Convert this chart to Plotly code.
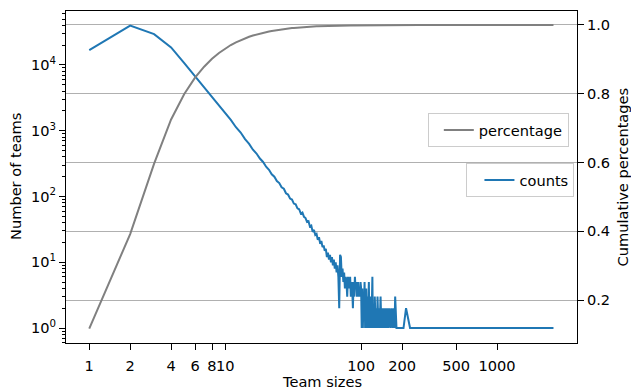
import numpy as np
import plotly.graph_objects as go

# Team sizes (unique sizes observed) and number of teams of each size
sizes = list(range(1, 101)) + [
    101, 102, 103, 104, 105, 106, 107, 108, 109, 110, 111, 112, 113, 114, 115,
    116, 117, 118, 119, 121, 122, 123, 125, 126, 128, 129, 131, 132, 134, 136,
    137, 139, 141, 143, 145, 147, 149, 152, 154, 156, 158, 161, 164, 167, 170,
    173, 176, 178, 182, 190, 205, 214, 229, 265, 340, 2600,
]
counts = [
    # 1-10
    16800, 39600, 29500, 18500, 10700, 6800, 4600, 3300, 2450, 1880,
    # 11-20
    1460, 1130, 940, 745, 630, 515, 450, 378, 335, 284,
    # 21-30
    255, 218, 200, 172, 160, 138, 131, 112, 107, 93,
    # 31-40
    90, 78, 76, 66, 64, 55, 57, 49, 47, 41,
    # 41-50
    42, 35, 36, 29, 31, 26, 27, 22, 24, 19,
    # 51-60
    21, 17, 18, 15, 16, 12, 14, 11, 13, 10,
    # 61-70
    12, 9, 11, 8, 10, 7, 9, 6, 2, 13,
    # 71-80
    12, 6, 8, 5, 7, 4, 6, 5, 3, 6,
    # 81-90
    5, 4, 6, 3, 5, 4, 2, 5, 3, 6,
    # 91-100
    4, 5, 3, 4, 5, 3, 4, 3, 5, 4,
    # sparse sizes above 100
    1, 4, 1, 3, 2, 5, 1, 2, 4, 1, 3, 1, 2, 5, 1,
    2, 1, 3, 1, 6, 1, 2, 1, 3, 1, 2, 1, 3, 1, 2,
    1, 3, 1, 2, 1, 2, 1, 2, 1, 2, 1, 2, 1, 2, 1,
    2, 1, 3, 1, 1, 1, 2, 1, 1, 1, 1,
]

# Cumulative share of teams up to each size
percentage = np.cumsum(counts) / np.sum(counts)

x_ticks = [1, 2, 4, 6, 8, 10, 100, 200, 500, 1000]
y_left_ticks = [1, 10, 100, 1000, 10000]
y_left_labels = ["10<sup>0</sup>", "10<sup>1</sup>", "10<sup>2</sup>",
                 "10<sup>3</sup>", "10<sup>4</sup>"]
y_right_ticks = [0.2, 0.4, 0.6, 0.8, 1.0]

minor_left = [m * 10 ** k for k in range(-1, 5) for m in range(2, 10)]
minor_left = [v for v in minor_left if 0.59 < v < 66000]

FONT = "DejaVu Sans"
FS = 14.6

fig = go.Figure()
fig.add_trace(go.Scatter(
    x=sizes, y=counts, mode="lines", name="counts",
    line=dict(color="#1f77b4", width=2), yaxis="y", legend="legend2",
))
fig.add_trace(go.Scatter(
    x=sizes, y=percentage, mode="lines", name="percentage",
    line=dict(color="#808080", width=2), yaxis="y2", legend="legend",
))

legend_style = dict(
    xanchor="right", yanchor="top",
    bgcolor="rgba(255,255,255,0.8)", bordercolor="#cccccc", borderwidth=1,
    font=dict(family=FONT, size=FS),
)

fig.update_layout(
    width=631, height=389,
    margin=dict(l=66, r=54, t=11, b=46),
    paper_bgcolor="white", plot_bgcolor="white",
    showlegend=True,
    font=dict(family=FONT, size=FS, color="black"),
    xaxis=dict(
        type="log", range=[-0.171, 3.588], automargin=False,
        tickvals=x_ticks, ticktext=[str(v) for v in x_ticks], tickangle=0,
        ticks="outside", ticklen=6, tickwidth=1, tickcolor="black",
        ticklabelstandoff=3,
        showline=True, linecolor="black", linewidth=1, mirror=True,
        showgrid=False, zeroline=False,
    ),
    yaxis=dict(
        type="log", range=[-0.228, 4.821], automargin=False,
        tickvals=y_left_ticks, ticktext=y_left_labels,
        ticks="outside", ticklen=6, tickwidth=1, tickcolor="black",
        minor=dict(tickvals=minor_left, ticks="outside", ticklen=3,
                   tickwidth=0.8, tickcolor="black", showgrid=False),
        showline=True, linecolor="black", linewidth=1,
        showgrid=False, zeroline=False,
    ),
    yaxis2=dict(
        overlaying="y", side="right", range=[0.0749, 1.0407], automargin=False,
        tickvals=y_right_ticks, ticktext=["0.2", "0.4", "0.6", "0.8", "1.0"],
        ticks="outside", ticklen=6, tickwidth=1, tickcolor="black",
        showline=True, linecolor="black", linewidth=1,
        showgrid=True, gridcolor="#b0b0b0", gridwidth=1, zeroline=False,
    ),
    legend=dict(x=0.984, y=0.693, indentation=10, **legend_style),
    legend2=dict(x=0.995, y=0.542, indentation=12, **legend_style),
    annotations=[
        dict(text="Team sizes", xref="paper", yref="paper", x=0.5, y=-0.1145,
             xanchor="center", yanchor="middle", showarrow=False),
        dict(text="Number of teams", xref="paper", yref="paper", x=-0.0998,
             y=0.5, xanchor="center", yanchor="middle", textangle=-90,
             showarrow=False),
        dict(text="Cumulative percentages", xref="paper", yref="paper",
             x=1.089, y=0.5, xanchor="center", yanchor="middle",
             textangle=-90, showarrow=False),
    ],
)

fig.write_html("out.html")
